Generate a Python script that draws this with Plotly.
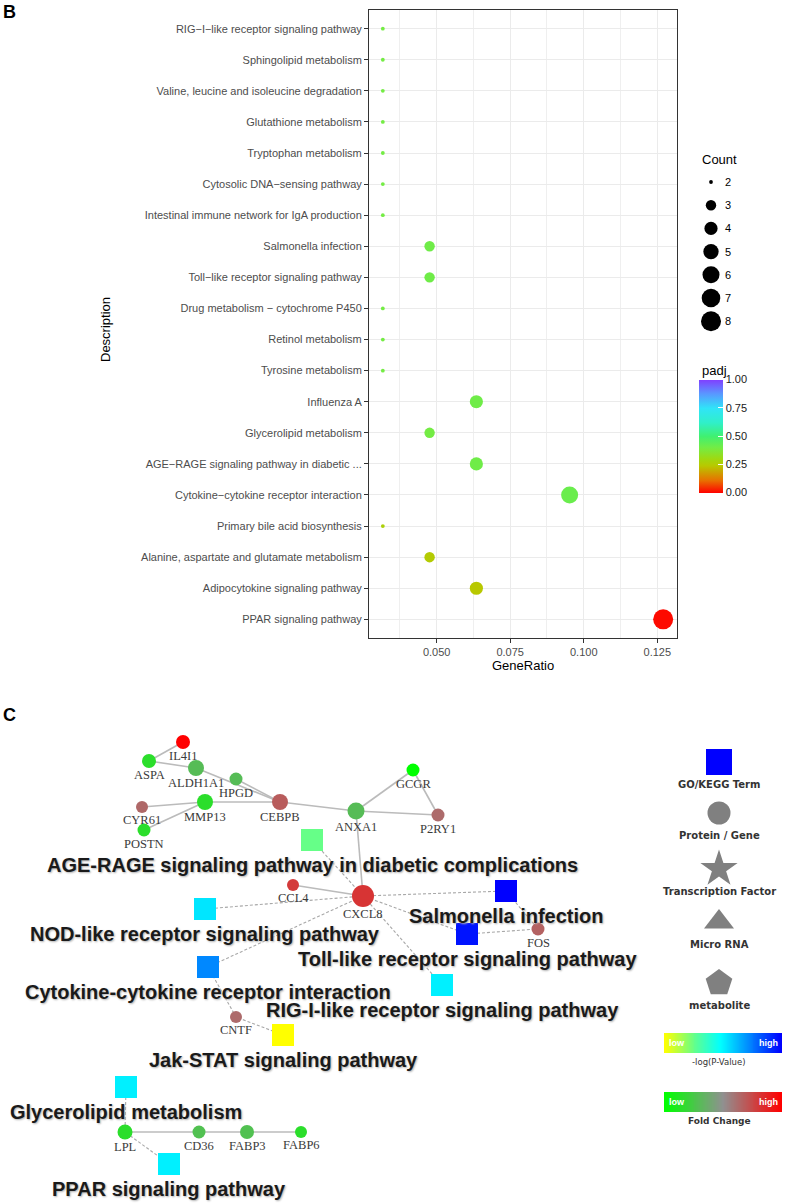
import numpy as np
import plotly.graph_objects as go

W, H = 786, 1204

# ---------------- Panel B data ----------------
descriptions = [
    "RIG−I−like receptor signaling pathway",
    "Sphingolipid metabolism",
    "Valine, leucine and isoleucine degradation",
    "Glutathione metabolism",
    "Tryptophan metabolism",
    "Cytosolic DNA−sensing pathway",
    "Intestinal immune network for IgA production",
    "Salmonella infection",
    "Toll−like receptor signaling pathway",
    "Drug metabolism − cytochrome P450",
    "Retinol metabolism",
    "Tyrosine metabolism",
    "Influenza A",
    "Glycerolipid metabolism",
    "AGE−RAGE signaling pathway in diabetic ...",
    "Cytokine−cytokine receptor interaction",
    "Primary bile acid biosynthesis",
    "Alanine, aspartate and glutamate metabolism",
    "Adipocytokine signaling pathway",
    "PPAR signaling pathway",
]
gene_ratio = [0.0317, 0.0317, 0.0317, 0.0317, 0.0317, 0.0317, 0.0317,
              0.0476, 0.0476, 0.0317, 0.0317, 0.0317, 0.0635, 0.0476,
              0.0635, 0.0952, 0.0317, 0.0476, 0.0635, 0.1270]
counts = [2, 2, 2, 2, 2, 2, 2, 3, 3, 2, 2, 2, 4, 3, 4, 6, 2, 3, 4, 8]
padj = [0.40, 0.40, 0.40, 0.40, 0.40, 0.40, 0.40, 0.41, 0.41, 0.40,
        0.40, 0.40, 0.41, 0.40, 0.41, 0.42, 0.27, 0.25, 0.24, 0.01]
count_legend = [2, 3, 4, 5, 6, 7, 8]
padj_ticks = [0, 0.25, 0.5, 0.75, 1.0]
x_ticks = [0.05, 0.075, 0.1, 0.125]

padj_scale = [
    [0.00, "#FF0000"], [0.11, "#E87000"], [0.24, "#B8C800"], [0.30, "#A0D810"],
    [0.40, "#74EC44"], [0.50, "#40F070"], [0.62, "#30F0C8"], [0.75, "#30E4F8"],
    [0.88, "#5A96FF"], [1.00, "#8040FF"],
]


def dot_size(c):
    return 3.8 + (20 - 3.8) * np.sqrt((c - 2) / 6.0)


# ---------------- Panel C data ----------------
gene_names = ["IL4I1", "ASPA", "ALDH1A1", "HPGD", "CYR61", "MMP13", "POSTN", "CEBPB",
              "ANXA1", "GCGR", "P2RY1", "CCL4", "CXCL8", "FOS", "CNTF", "LPL",
              "CD36", "FABP3", "FABP6"]
gene_x = [183, 149, 196, 236, 142, 205, 144, 280, 356, 413, 438, 293, 363, 538, 236,
          125, 199, 247, 301]
gene_y = [742, 761, 768, 779, 807, 802, 830, 802, 811, 770, 815, 885, 896, 929, 1017,
          1132, 1132, 1132, 1132]
gene_fc = [1.00, 0.15, 0.30, 0.30, 0.64, 0.15, 0.15, 0.68, 0.30, 0.00, 0.63, 0.80,
           0.82, 0.66, 0.63, 0.15, 0.28, 0.28, 0.15]
gene_size = [14, 14, 16, 13, 12, 16, 13, 16, 17, 13, 13, 12, 22, 13, 12, 15, 13, 14, 12]

term_ids = ["AGE", "NOD", "SAL", "TOLL", "CYTO", "RIG", "JAK", "GLY", "PPAR"]
term_labels = ["AGE-RAGE signaling pathway in diabetic complications",
               "NOD-like receptor signaling pathway",
               "Salmonella infection",
               "Toll-like receptor signaling pathway",
               "Cytokine-cytokine receptor interaction",
               "RIG-I-like receptor signaling pathway",
               "Jak-STAT signaling pathway",
               "Glycerolipid metabolism",
               "PPAR signaling pathway"]
term_x = [312, 205, 506, 467, 208, 442, 283, 126, 169]
term_y = [840, 909, 891, 934, 967, 985, 1035, 1087, 1164]
term_logp = [0.25, 0.53, 1.00, 0.96, 0.72, 0.51, 0.00, 0.51, 0.51]

solid_edges = [("IL4I1", "ASPA"), ("ASPA", "ALDH1A1"), ("ALDH1A1", "CEBPB"),
               ("HPGD", "CEBPB"), ("CYR61", "MMP13"), ("POSTN", "MMP13"),
               ("MMP13", "CEBPB"), ("CEBPB", "ANXA1"), ("ANXA1", "GCGR"),
               ("ANXA1", "P2RY1"), ("GCGR", "P2RY1"), ("ANXA1", "CXCL8"),
               ("CCL4", "CXCL8"), ("LPL", "CD36"), ("CD36", "FABP3"), ("FABP3", "FABP6")]
dashed_edges = [("AGE", "CXCL8"), ("NOD", "CXCL8"), ("SAL", "CXCL8"), ("SAL", "FOS"),
                ("TOLL", "CXCL8"), ("TOLL", "FOS"), ("CYTO", "CXCL8"), ("CYTO", "CNTF"),
                ("RIG", "CXCL8"), ("JAK", "CNTF"), ("GLY", "LPL"), ("PPAR", "LPL")]

legend_shape_labels = ["GO/KEGG Term", "Protein / Gene", "Transcription Factor",
                       "Micro RNA", "metabolite"]

logp_scale = [[0, "#FFFF00"], [0.25, "#66FF88"], [0.48, "#00FFFF"],
              [0.72, "#0088FF"], [1, "#0000FF"]]
fc_scale = [[0, "#00FF00"], [0.5, "#909090"], [1, "#FF0000"]]

# ---------------- Build figure ----------------
fig = go.Figure()

SANS = "Liberation Sans, Arial, Helvetica, sans-serif"
SERIF = "Liberation Serif, Times New Roman, serif"
DEJA = "DejaVu Sans, Verdana, sans-serif"

fig.add_trace(go.Scatter(
    x=gene_ratio, y=descriptions, mode="markers", xaxis="x", yaxis="y",
    showlegend=False, hoverinfo="skip",
    marker=dict(size=[dot_size(c) for c in counts], color=padj, colorscale=padj_scale,
                cmin=0, cmax=1, line=dict(width=0), opacity=1,
                colorbar=dict(x=699 / W, xanchor="left", xpad=0,
                              y=1 - 436 / H, yanchor="middle", ypad=0,
                              lenmode="pixels", len=113, thickness=24,
                              outlinewidth=0, tickvals=padj_ticks,
                              ticktext=["%.2f" % v for v in padj_ticks],
                              ticks="inside", ticklen=5, tickcolor="white",
                              tickfont=dict(family=SANS, size=11, color="#1a1a1a"))),
))

nodes = {}
for n, x, y in zip(gene_names, gene_x, gene_y):
    nodes[n] = (x, y)
for n, x, y in zip(term_ids, term_x, term_y):
    nodes[n] = (x, y)


def edge_xy(edges):
    xs, ys = [], []
    for a, b in edges:
        xs += [nodes[a][0], nodes[b][0], None]
        ys += [nodes[a][1], nodes[b][1], None]
    return xs, ys


ex, ey = edge_xy(dashed_edges)
fig.add_trace(go.Scatter(x=ex, y=ey, mode="lines", xaxis="x2", yaxis="y2",
                         line=dict(color="#A8A8A8", width=1.1, dash="3px,2px"),
                         showlegend=False, hoverinfo="skip"))
ex, ey = edge_xy(solid_edges)
fig.add_trace(go.Scatter(x=ex, y=ey, mode="lines", xaxis="x2", yaxis="y2",
                         line=dict(color="#BBBBBB", width=1.6),
                         showlegend=False, hoverinfo="skip"))

# term nodes
fig.add_trace(go.Scatter(
    x=term_x, y=term_y, mode="markers", xaxis="x2", yaxis="y2",
    marker=dict(symbol="square", size=22, color=term_logp, colorscale=logp_scale,
                cmin=0, cmax=1, line=dict(width=0), opacity=1),
    showlegend=False, hoverinfo="skip"))

# gene nodes
fig.add_trace(go.Scatter(
    x=gene_x, y=gene_y, mode="markers", xaxis="x2", yaxis="y2",
    marker=dict(symbol="circle", size=gene_size, color=gene_fc, colorscale=fc_scale,
                cmin=0, cmax=1, line=dict(width=0), opacity=1),
    showlegend=False, hoverinfo="skip"))

# Count legend (panel B)
leg_y = [182 + 23.2 * i for i in range(len(count_legend))]
fig.add_trace(go.Scatter(
    x=[711] * len(count_legend), y=leg_y, mode="markers", xaxis="x2", yaxis="y2",
    marker=dict(size=[dot_size(c) for c in count_legend], color="black",
                line=dict(width=0), opacity=1),
    showlegend=False, hoverinfo="skip"))

# Panel C shape legend
shape_y = [762, 813, 869, 922, 983]
fig.add_trace(go.Scatter(
    x=[719] * 5, y=shape_y, mode="markers", xaxis="x2", yaxis="y2",
    marker=dict(symbol=["square", "circle", "star", "triangle-up", "pentagon"],
                size=[26, 23, 28, 26, 28],
                color=["#0000FF", "#808080", "#808080", "#808080", "#808080"],
                line=dict(width=0), opacity=1),
    showlegend=False, hoverinfo="skip"))

# gradient bars
ramp = [list(np.linspace(0, 1, 120))]
fig.add_trace(go.Heatmap(z=ramp, colorscale=logp_scale, showscale=False, xaxis="x3",
                         yaxis="y3", hoverinfo="skip"))
fig.add_trace(go.Heatmap(z=ramp, colorscale=fc_scale, showscale=False, xaxis="x4",
                         yaxis="y4", hoverinfo="skip"))

grid = "#EBEBEB"
fig.update_layout(
    width=W, height=H, margin=dict(l=0, r=0, t=0, b=0),
    paper_bgcolor="white", plot_bgcolor="rgba(0,0,0,0)",
    font=dict(family=SANS),
    xaxis=dict(domain=[369 / W, 677 / W], range=[0.0270, 0.1317], anchor="y",
               tickvals=x_ticks, ticktext=["0.050", "0.075", "0.100", "0.125"],
               showgrid=True, gridcolor=grid, gridwidth=1.1, zeroline=False,
               minor=dict(tickvals=[0.0375, 0.0625, 0.0875, 0.1125], showgrid=True,
                          gridcolor="#EFEFEF", gridwidth=0.9, ticks=""),
               ticks="outside", ticklen=4, tickcolor="#333333",
               tickfont=dict(size=11, color="#4D4D4D"),
               showline=True, linecolor="#333333", linewidth=1, mirror=True),
    yaxis=dict(domain=[1 - 638 / H, 1 - 10 / H], anchor="x", type="category",
               categoryorder="array", categoryarray=descriptions[::-1],
               range=[-0.6, len(descriptions) - 0.4],
               showgrid=True, gridcolor=grid, gridwidth=1.1, zeroline=False,
               ticks="outside", ticklen=4, tickcolor="#333333",
               tickfont=dict(size=11, color="#4D4D4D"),
               showline=True, linecolor="#333333", linewidth=1, mirror=True),
    xaxis2=dict(domain=[0, 1], range=[0, W], anchor="y2", visible=False, fixedrange=True),
    yaxis2=dict(domain=[0, 1], range=[H, 0], anchor="x2", visible=False, fixedrange=True),
    xaxis3=dict(domain=[664 / W, 782 / W], anchor="y3", visible=False),
    yaxis3=dict(domain=[1 - 1053 / H, 1 - 1033 / H], anchor="x3", visible=False),
    xaxis4=dict(domain=[664 / W, 782 / W], anchor="y4", visible=False),
    yaxis4=dict(domain=[1 - 1112 / H, 1 - 1092 / H], anchor="x4", visible=False),
)

ann = []


def A(text, x, y, size=11, color="#000000", bold=False, xanchor="center", angle=0,
      family=SANS, shadow=None):
    f = dict(size=size, color=color, family=family)
    if shadow:
        f["shadow"] = shadow
    ann.append(dict(text=("<b>%s</b>" % text) if bold else text, x=x, y=y, xref="x2",
                    yref="y2", showarrow=False, xanchor=xanchor, yanchor="middle",
                    textangle=angle, font=f))


A("B", 1, 12, size=18, bold=True, xanchor="left")
A("C", 1, 715, size=18, bold=True, xanchor="left")
A("Description", 105, 330, size=13, angle=-90)
A("GeneRatio", 523, 665, size=13)
A("Count", 700, 159, size=13, xanchor="left")
for c, y in zip(count_legend, leg_y):
    A(str(c), 723, y, size=11, xanchor="left")
A("padj", 700, 370, size=13, xanchor="left")

# network labels
for lab, x, y in zip(term_labels, term_x, term_y):
    A(lab, x, y + 25, size=20, bold=True, color="#1a1a1a", shadow="1px 1px 2px #b0b0b0")
for lab, x, y, s in zip(gene_names, gene_x, gene_y, gene_size):
    A(lab, x, y + s / 2 + 7, size=12.5, color="#3a3a3a", family=SERIF)

for lab, y in zip(legend_shape_labels, shape_y):
    A(lab, 719, y + 22, size=10, bold=True, color="#333333", family=DEJA)
A("low", 667, 1043, size=9, bold=True, color="white", xanchor="left")
A("high", 780, 1043, size=9, bold=True, color="white", xanchor="right")
A("-log(P-Value)", 719, 1062, size=8.5, color="#333333", family=DEJA)
A("low", 667, 1102, size=9, bold=True, color="white", xanchor="left")
A("high", 780, 1102, size=9, bold=True, color="white", xanchor="right")
A("Fold Change", 719, 1121, size=9, bold=True, color="#333333", family=DEJA)
fig.update_layout(annotations=ann)

fig.write_html("out.html", config={"displayModeBar": False},
               post_script="document.body.style.margin='0px';")
